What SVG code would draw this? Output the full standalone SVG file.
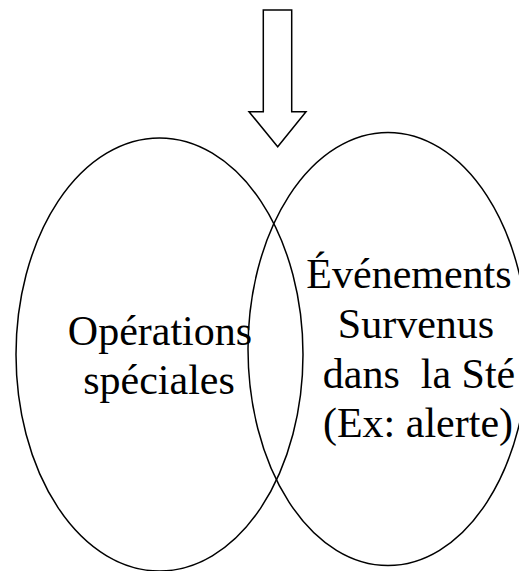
<svg xmlns="http://www.w3.org/2000/svg" width="519" height="571" viewBox="0 0 519 571">
  <style>
    .shape { fill: none; stroke: #000; stroke-width: 1.5; }
    .arrow { fill: #fff; stroke: #000; stroke-width: 1.5; stroke-linejoin: miter; }
    .label { font-family: "Liberation Serif", "Times New Roman", serif; font-size: 42px; fill: #000; text-anchor: middle; }
  </style>
  <rect width="519" height="571" fill="#fff"/>

  <!-- hollow block arrow pointing down -->
  <g id="connectors">
    <polygon class="arrow" points="263.3,10 291.7,10 291.7,111.7 306,111.7 277.7,146.7 249,111.7 263.3,111.7"/>
  </g>

  <g id="operations-speciales">
    <ellipse class="shape" cx="159.5" cy="354.5" rx="143.5" ry="216.5"/>
    <text class="label" x="160" y="345">Opérations</text>
    <text class="label" x="159" y="394">spéciales</text>
  </g>

  <g id="evenements-survenus">
    <ellipse class="shape" cx="388" cy="349" rx="140" ry="216.5"/>
    <text class="label" x="409" y="288">Événements</text>
    <text class="label" x="416" y="338">Survenus</text>
    <text class="label" x="419" y="388" xml:space="preserve">dans  la Sté</text>
    <text class="label" x="418" y="437">(Ex: alerte)</text>
  </g>
</svg>
